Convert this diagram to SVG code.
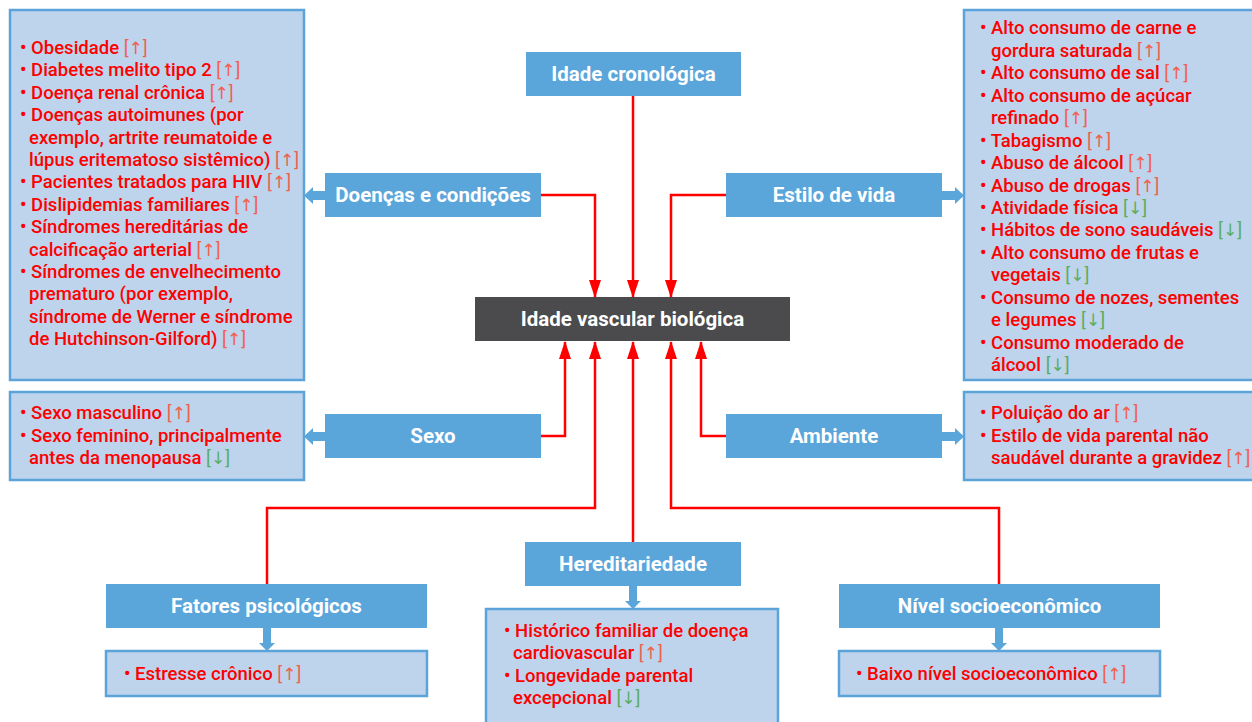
<svg xmlns="http://www.w3.org/2000/svg" width="1252" height="722" viewBox="0 0 1252 722">
<style>
.list{fill:#bdd4ec;stroke:#5ba3d9;stroke-width:2.5}
.lab{fill:#5aa5da}
.center{fill:#4b4b4d}
.lt{font-family:Roboto,"Open Sans",sans-serif;font-weight:700;font-size:20.5px;fill:#fff;text-anchor:middle}
.li{font-family:Roboto,"Open Sans",sans-serif;font-weight:500;font-size:18.5px;fill:#f00}
.up{fill:#f0614f;font-weight:400}
.dn{fill:#5cad5e;font-weight:400}
.ar{font-family:"DejaVu Sans",sans-serif;font-weight:400;font-size:17px}
.con{fill:none;stroke:#f00;stroke-width:2.5;marker-end:url(#ah)}
.barrow{fill:#5aa5da}
</style>
<defs>
<marker id="ah" markerUnits="userSpaceOnUse" markerWidth="18" markerHeight="12" refX="17" refY="6" orient="auto">
<path d="M0,0 L18,6 L0,12 Z" fill="#f00"/>
</marker>
</defs>

<g id="connectors">
<path class="con" d="M633,96 V297"/>
<path class="con" d="M541,195 H595 V297"/>
<path class="con" d="M726,195 H671 V297"/>
<path class="con" d="M541,436 H565 V342"/>
<path class="con" d="M726,436 H701 V342"/>
<path class="con" d="M267,584 V508 H595 V342"/>
<path class="con" d="M633,542 V342"/>
<path class="con" d="M999,584 V508 H671 V342"/>
<path class="barrow" d="M325,191 H313 V187 L304,195.5 L313,204 V200 H325 Z"/>
<path class="barrow" d="M942,191 H955 V187 L964,195.5 L955,204 V200 H942 Z"/>
<path class="barrow" d="M325,432 H313 V428 L304,436.5 L313,445 V441 H325 Z"/>
<path class="barrow" d="M942,432 H955 V428 L964,436.5 L955,445 V441 H942 Z"/>
<path class="barrow" d="M263,628 V643 H259 L267,651 L275,643 H271 V628 Z"/>
<path class="barrow" d="M629,586 V601 H625 L633,609 L641,601 H637 V586 Z"/>
<path class="barrow" d="M995,628 V643 H991 L999,651 L1007,643 H1003 V628 Z"/>
</g>

<g id="idade-cronologica">
<rect class="lab" x="526" y="52" width="215" height="44"/>
<text class="lt" x="633.5" y="81">Idade cronológica</text>
</g>

<g id="idade-vascular">
<rect class="center" x="475" y="297" width="315" height="44"/>
<text class="lt" x="632.5" y="326">Idade vascular biológica</text>
</g>

<g id="doencas">
<rect class="lab" x="325" y="173" width="216" height="44"/>
<text class="lt" x="433" y="202">Doenças e condições</text>
</g>

<g id="doencas-lista">
<rect class="list" x="10" y="10" width="294" height="370"/>
<text class="li" x="20" y="54">• Obesidade <tspan class="up">[<tspan class="ar">↑</tspan>]</tspan></text>
<text class="li" x="20" y="76.4">• Diabetes melito tipo 2 <tspan class="up">[<tspan class="ar">↑</tspan>]</tspan></text>
<text class="li" x="20" y="98.8">• Doença renal crônica <tspan class="up">[<tspan class="ar">↑</tspan>]</tspan></text>
<text class="li" x="20" y="121.2">• Doenças autoimunes (por</text>
<text class="li" x="29" y="143.6">exemplo, artrite reumatoide e</text>
<text class="li" x="29" y="166">lúpus eritematoso sistêmico) <tspan class="up">[<tspan class="ar">↑</tspan>]</tspan></text>
<text class="li" x="20" y="188.4">• Pacientes tratados para HIV <tspan class="up">[<tspan class="ar">↑</tspan>]</tspan></text>
<text class="li" x="20" y="210.8">• Dislipidemias familiares <tspan class="up">[<tspan class="ar">↑</tspan>]</tspan></text>
<text class="li" x="20" y="233.2">• Síndromes hereditárias de</text>
<text class="li" x="29" y="255.6">calcificação arterial <tspan class="up">[<tspan class="ar">↑</tspan>]</tspan></text>
<text class="li" x="20" y="278">• Síndromes de envelhecimento</text>
<text class="li" x="29" y="300.4">prematuro (por exemplo,</text>
<text class="li" x="29" y="322.8">síndrome de Werner e síndrome</text>
<text class="li" x="29" y="345.2">de Hutchinson-Gilford) <tspan class="up">[<tspan class="ar">↑</tspan>]</tspan></text>
</g>

<g id="estilo">
<rect class="lab" x="726" y="173" width="216" height="44"/>
<text class="lt" x="834" y="202">Estilo de vida</text>
</g>

<g id="estilo-lista">
<rect class="list" x="964" y="10" width="296" height="370"/>
<text class="li" x="980" y="34.3">• Alto consumo de carne e</text>
<text class="li" x="991" y="56.8">gordura saturada <tspan class="up">[<tspan class="ar">↑</tspan>]</tspan></text>
<text class="li" x="980" y="79.2">• Alto consumo de sal <tspan class="up">[<tspan class="ar">↑</tspan>]</tspan></text>
<text class="li" x="980" y="101.7">• Alto consumo de açúcar</text>
<text class="li" x="991" y="124.1">refinado <tspan class="up">[<tspan class="ar">↑</tspan>]</tspan></text>
<text class="li" x="980" y="146.6">• Tabagismo <tspan class="up">[<tspan class="ar">↑</tspan>]</tspan></text>
<text class="li" x="980" y="169">• Abuso de álcool <tspan class="up">[<tspan class="ar">↑</tspan>]</tspan></text>
<text class="li" x="980" y="191.5">• Abuso de drogas <tspan class="up">[<tspan class="ar">↑</tspan>]</tspan></text>
<text class="li" x="980" y="213.9">• Atividade física <tspan class="dn">[<tspan class="ar">↓</tspan>]</tspan></text>
<text class="li" x="980" y="236.4">• Hábitos de sono saudáveis <tspan class="dn">[<tspan class="ar">↓</tspan>]</tspan></text>
<text class="li" x="980" y="258.8">• Alto consumo de frutas e</text>
<text class="li" x="991" y="281.3">vegetais <tspan class="dn">[<tspan class="ar">↓</tspan>]</tspan></text>
<text class="li" x="980" y="303.7">• Consumo de nozes, sementes</text>
<text class="li" x="991" y="326.2">e legumes <tspan class="dn">[<tspan class="ar">↓</tspan>]</tspan></text>
<text class="li" x="980" y="348.6">• Consumo moderado de</text>
<text class="li" x="991" y="371">álcool <tspan class="dn">[<tspan class="ar">↓</tspan>]</tspan></text>
</g>

<g id="sexo">
<rect class="lab" x="325" y="414" width="216" height="44"/>
<text class="lt" x="433" y="443">Sexo</text>
</g>

<g id="sexo-lista">
<rect class="list" x="10" y="392" width="294" height="88"/>
<text class="li" x="20" y="419.3">• Sexo masculino <tspan class="up">[<tspan class="ar">↑</tspan>]</tspan></text>
<text class="li" x="20" y="441.7">• Sexo feminino, principalmente</text>
<text class="li" x="29" y="464.3">antes da menopausa <tspan class="dn">[<tspan class="ar">↓</tspan>]</tspan></text>
</g>

<g id="ambiente">
<rect class="lab" x="726" y="414" width="216" height="44"/>
<text class="lt" x="834" y="443">Ambiente</text>
</g>

<g id="ambiente-lista">
<rect class="list" x="964" y="392" width="296" height="88"/>
<text class="li" x="980" y="419.3">• Poluição do ar <tspan class="up">[<tspan class="ar">↑</tspan>]</tspan></text>
<text class="li" x="980" y="441.7">• Estilo de vida parental não</text>
<text class="li" x="991" y="464.3">saudável durante a gravidez <tspan class="up">[<tspan class="ar">↑</tspan>]</tspan></text>
</g>

<g id="fatores">
<rect class="lab" x="106" y="584" width="321" height="44"/>
<text class="lt" x="266.5" y="613">Fatores psicológicos</text>
</g>

<g id="fatores-lista">
<rect class="list" x="106" y="651" width="321" height="45"/>
<text class="li" x="124" y="680">• Estresse crônico  <tspan class="up">[<tspan class="ar">↑</tspan>]</tspan></text>
</g>

<g id="hereditariedade">
<rect class="lab" x="525" y="542" width="216" height="44"/>
<text class="lt" x="633" y="571">Hereditariedade</text>
</g>

<g id="hereditariedade-lista">
<rect class="list" x="486" y="609" width="292" height="120"/>
<text class="li" x="504" y="636.7">• Histórico familiar de doença</text>
<text class="li" x="513" y="659">cardiovascular <tspan class="up">[<tspan class="ar">↑</tspan>]</tspan></text>
<text class="li" x="504" y="681.7">• Longevidade parental</text>
<text class="li" x="513" y="704">excepcional <tspan class="dn">[<tspan class="ar">↓</tspan>]</tspan></text>
</g>

<g id="nivel">
<rect class="lab" x="839" y="584" width="321" height="44"/>
<text class="lt" x="999.5" y="613">Nível socioeconômico</text>
</g>

<g id="nivel-lista">
<rect class="list" x="839" y="651" width="321" height="45"/>
<text class="li" x="856" y="680">• Baixo nível socioeconômico <tspan class="up">[<tspan class="ar">↑</tspan>]</tspan></text>
</g>
</svg>
